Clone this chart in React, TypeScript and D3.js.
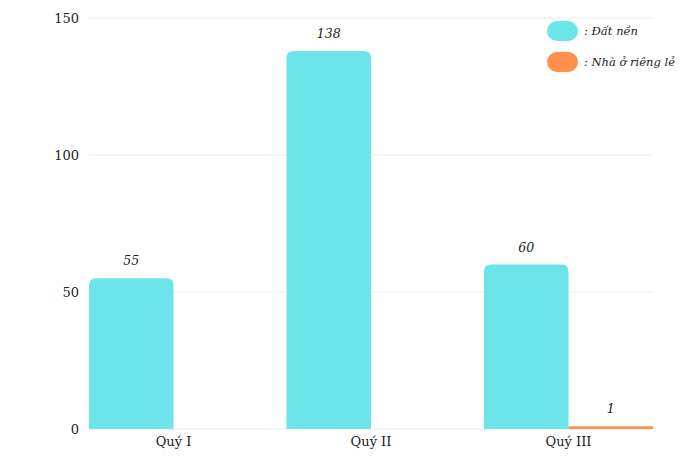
import React from "react";
import * as d3 from "d3";

const categories = ["Quý I", "Quý II", "Quý III"];
const seriesNames = ["Đất nền", "Nhà ở riêng lẻ"];
const datNen = [55, 138, 60];
const nhaO = [0, 0, 1];
const yTicks = [0, 50, 100, 150];
const colors = ["#6ce5e8", "#ff914d"];

const W = 700, H = 467;
const left = 89, right = 653, top = 18, bottom = 429;
const font = "'DejaVu Serif', 'Liberation Serif', serif";

function topRounded(x: number, y: number, w: number, h: number, r: number) {
  const rr = Math.min(r, h, w / 2);
  if (h <= 0) return "";
  return `M${x},${y + h}V${y + rr}Q${x},${y} ${x + rr},${y}H${x + w - rr}Q${x + w},${y} ${x + w},${y + rr}V${y + h}Z`;
}

export default function App() {
  const x0 = d3.scaleBand<string>().domain(categories).range([left, right]).paddingInner(0.144).paddingOuter(0);
  const x1 = d3.scaleBand<string>().domain(seriesNames).range([0, x0.bandwidth()]);
  const y = d3.scaleLinear().domain([0, 150]).range([bottom, top]);
  const series = [datNen, nhaO];

  return (
    <svg width={W} height={H} style={{ position: "absolute", left: 0, top: 0 }} fontFamily={font}>
      <rect width={W} height={H} fill="#fff" />
      {yTicks.map((t) => (
        <g key={t}>
          <line x1={left} x2={right} y1={y(t)} y2={y(t)} stroke="#ececec" strokeWidth={1} />
          <text x={79} y={y(t)} dy="0.35em" textAnchor="end" fontSize={13} fill="#222">{t}</text>
        </g>
      ))}
      {categories.map((c, i) => (
        <g key={c}>
          {series.map((s, j) => {
            const v = s[i];
            if (v <= 0) return null;
            const bx = (x0(c) as number) + (x1(seriesNames[j]) as number);
            const bw = x1.bandwidth();
            const by = y(v);
            const bh = y(0) - by;
            return (
              <g key={j}>
                {bh > 8 ? (
                  <path d={topRounded(bx, by, bw, bh, 7)} fill={colors[j]} />
                ) : (
                  <rect x={bx} y={by} width={bw} height={bh} fill={colors[j]} />
                )}
                <text x={bx + bw / 2} y={by - 13} textAnchor="middle" fontSize={12.5} fontStyle="italic" fill="#222">{v}</text>
              </g>
            );
          })}
          <text x={(x0(c) as number) + x0.bandwidth() / 2} y={446} textAnchor="middle" fontSize={13} fill="#222">{c}</text>
        </g>
      ))}
      {seriesNames.map((n, j) => (
        <g key={n} transform={`translate(547, ${21 + j * 31})`}>
          <rect width={31} height={20} rx={10} fill={colors[j]} />
          <text x={37} y={14} fontSize={11.5} fontStyle="italic" fill="#222">: {n}</text>
        </g>
      ))}
    </svg>
  );
}
